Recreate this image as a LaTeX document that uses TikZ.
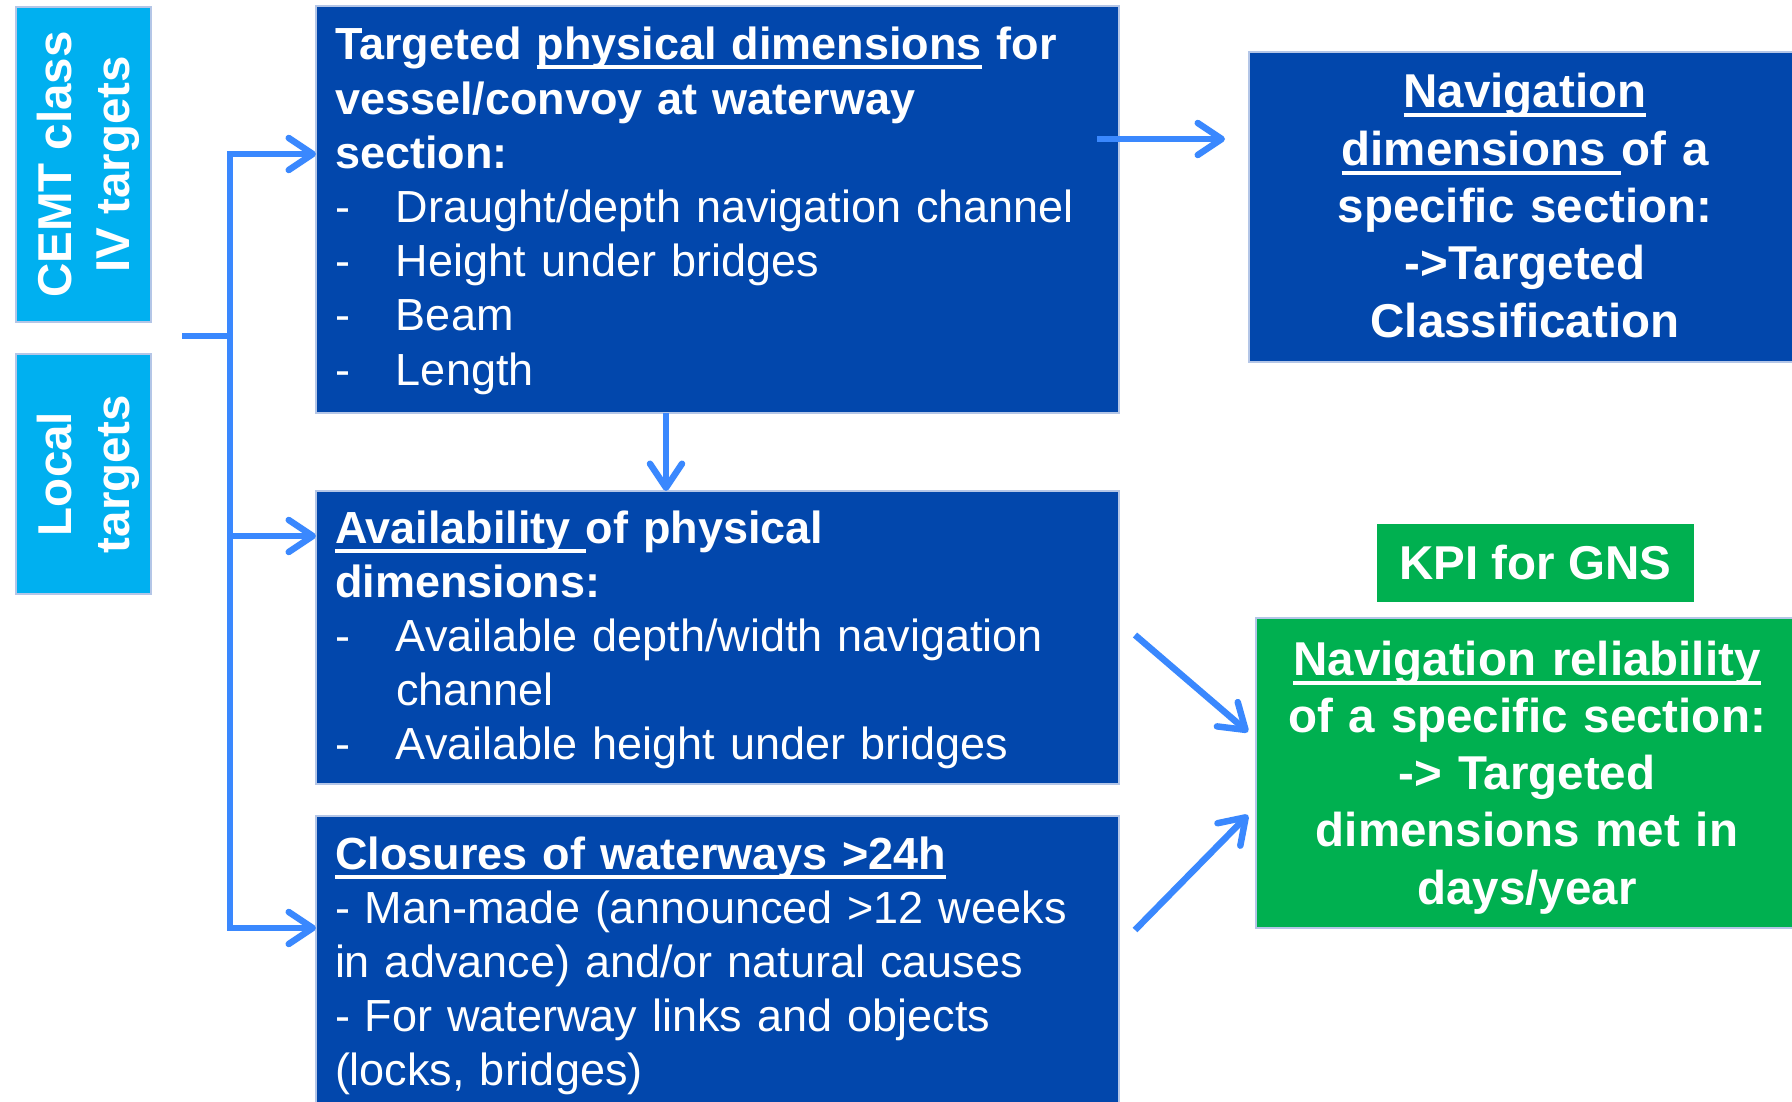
\documentclass[tikz,border=0pt]{standalone}
\usepackage{fontspec}
\setmainfont{Liberation Sans}
\usetikzlibrary{arrows.meta,calc}

\definecolor{boxblue}{RGB}{2,71,172}
\definecolor{tagcyan}{RGB}{0,176,240}
\definecolor{kpigreen}{RGB}{0,176,80}
\definecolor{linkblue}{RGB}{58,136,254}
\definecolor{paneledge}{RGB}{180,198,231}

% thick underline that runs just under the baseline
\newsavebox\ulinebox
\newcommand\ulin[1]{\leavevmode\sbox\ulinebox{#1}\rlap{\rule[-9.5pt]{\wd\ulinebox}{4pt}}\usebox\ulinebox}
% hanging dash for list lines
\newcommand\itemdash{\makebox[61pt][l]{-}}

\begin{document}
\begin{tikzpicture}[x=1pt,y=-1pt,
  panel/.style={draw=paneledge, line width=2pt, anchor=north west,
    inner sep=0pt, outer sep=0pt},
  bluepanel/.style={panel, fill=boxblue},
  cyanpanel/.style={panel, fill=tagcyan},
  greenpanel/.style={panel, fill=kpigreen},
  body/.style={text=white, inner sep=0pt, outer sep=0pt,
    font={\fontsize{45}{54.2}\selectfont}},
  headline/.style={text=white, inner sep=0pt, outer sep=0pt,
    font={\fontsize{47.5}{57.3}\selectfont\bfseries}},
  conn/.style={draw=linkblue, line width=6.5pt},
  tipshape/.tip={Straight Barb[length=24pt,width=32pt,round]},
  arr/.style={conn, -tipshape},
]
\clip (0,0) rectangle (1792,1102);
\fill[white] (0,0) rectangle (1792,1102);

% ---- left tags ----
\node[cyanpanel, minimum width=135pt, minimum height=315pt] (cemt) at (16,7) {};
\node[cyanpanel, minimum width=135pt, minimum height=240pt] (local) at (16,354) {};
\node[headline, rotate=90, align=center, font={\fontsize{47.5}{58}\selectfont\bfseries}]
  (cemttext) at (88,164.5) {CEMT class\\IV targets};
\node[headline, rotate=90, align=center, font={\fontsize{47.5}{58}\selectfont\bfseries}]
  (localtext) at (88,474) {Local\\targets};

% ---- middle column ----
\node[bluepanel, minimum width=803pt, minimum height=407pt] (dims) at (316,6) {};
\node[bluepanel, minimum width=803pt, minimum height=293pt] (avail) at (316,491) {};
\node[bluepanel, minimum width=803pt, minimum height=320pt] (clos) at (316,816) {};

\node[body, anchor=base west, text width=780pt, align=left] (dimstext) at (335,60) {%
\textbf{Targeted \ulin{physical dimensions} for}\\
\textbf{vessel/convoy at waterway}\\
\textbf{section:}\\
\itemdash Draught/depth navigation channel\\
\itemdash Height under bridges\\
\itemdash Beam\\
\itemdash Length};

\node[body, anchor=base west, text width=780pt, align=left] (availtext) at (335,543) {%
\textbf{\ulin{Availability }of physical}\\
\textbf{dimensions:}\\
\itemdash Available depth/width navigation\\
\hspace*{61pt}channel\\
\itemdash Available height under bridges};

\node[body, anchor=base west, text width=780pt, align=left] (clostext) at (335,869) {%
\textbf{\ulin{Closures of waterways >24h}}\\
- Man-made (announced >12 weeks\\
in advance) and/or natural causes\\
- For waterway links and objects\\
(locks, bridges)};

% ---- right column ----
\node[bluepanel, minimum width=560pt, minimum height=310pt] (nav) at (1249,52) {};
\node[headline, anchor=base, text width=540pt, align=center] (navtext) at (1525,108) {%
\ulin{Navigation}\\
\ulin{dimensions }of a\\
specific section:\\
->Targeted\\
Classification};

\node[fill=kpigreen, minimum width=317pt, minimum height=78pt, inner sep=0pt,
  text=white, font={\fontsize{47.5}{57.3}\selectfont\bfseries}] (kpi) at (1535.5,563) {KPI for GNS};

\node[greenpanel, minimum width=560pt, minimum height=310pt] (rel) at (1256,618) {};
\node[headline, anchor=base, text width=540pt, align=center] (reltext) at (1527,675) {%
\ulin{Navigation reliability}\\
of a specific section:\\
-> Targeted\\
dimensions met in\\
days/year};

% ---- connectors ----
\coordinate (stemL) at (182,336);
\coordinate (spineTop) at (230,154);
\coordinate (spineMid) at (230,536);
\coordinate (spineBot) at (230,928);

\draw[conn] (stemL) -- (stemL -| spineTop);
\draw[conn, tipshape-tipshape] (spineTop -| dims.west) -- (spineTop) -- (spineBot) -- (spineBot -| clos.west);
\draw[arr] (spineMid) -- (spineMid -| avail.west);

\draw[arr] ($(dims.south west)+(350,0)$) -- ($(avail.north west)+(350,0)$);
\draw[arr] ($(dims.north east)+(-22,133)$) -- ($(nav.north west)+(-24,87)$);
\draw[arr] ($(avail.north east)+(16,144)$) -- ($(rel.north west)+(-8,114)$);
\draw[arr] ($(clos.north east)+(16,114)$) -- ($(rel.north west)+(-8,197)$);
\end{tikzpicture}
\end{document}
